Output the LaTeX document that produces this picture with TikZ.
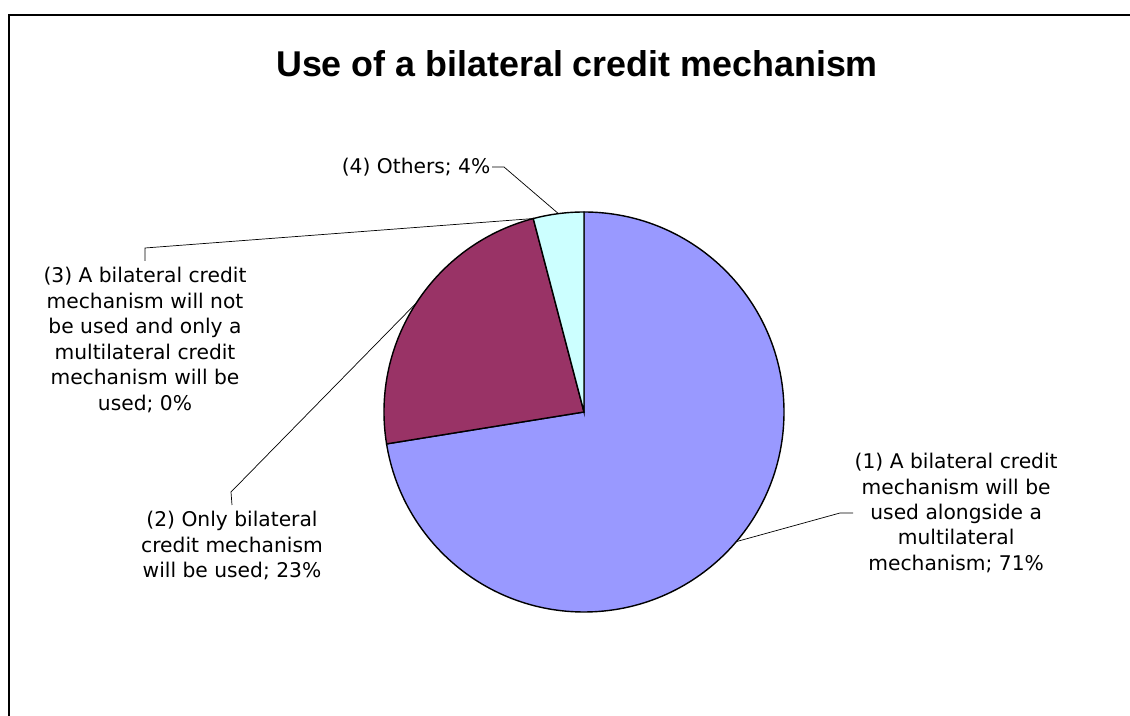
\documentclass[tikz,border=0pt]{standalone}
\usepackage{fontspec}
\setmainfont{DejaVu Sans}
\newfontfamily\titlefont{Liberation Sans}
\usepackage{tikz}
\tikzset{>=latex}
\usetikzlibrary{calc}
\usepackage{xcolor}
\definecolor{slicea}{HTML}{9999FF}
\definecolor{sliceb}{HTML}{993366}
\definecolor{slicec}{HTML}{CCFFFF}
\tikzstyle{slice}=[draw=black,line width=1pt]
\tikzstyle{leader}=[draw=black,line width=0.5pt]
\tikzstyle{lbl}=[align=center,inner xsep=1pt,inner ysep=4.5pt,font=\fontsize{14.4}{18.1}\selectfont]

\begin{document}
\begin{tikzpicture}
  \useasboundingbox (0,0) rectangle (28.25,17.9);
  \coordinate (C) at (14.6,7.6); % CENTRE
  \def\R{5}
  \pgfmathsetmacro\Aa{90-71/98*360}
  \pgfmathsetmacro\Ab{\Aa-23/98*360}
  \pgfmathsetmacro\Ma{(90+\Aa)/2}
  \pgfmathsetmacro\Mb{(\Aa+\Ab)/2}
  \pgfmathsetmacro\Md{(\Ab-270)/2}
  \coordinate (P1) at ($(C)+(\Ma:\R)$); % SLICE POINTS
  \coordinate (P2) at ($(C)+(\Mb:\R)$);
  \coordinate (P3) at ($(C)+(\Ab:\R)$);
  \coordinate (P4) at ($(C)+(\Md:\R)$);
  \coordinate (B1) at (21.0,5.075); % BENDS
  \coordinate (B2) at (5.775,5.6);
  \coordinate (B3) at (3.625,11.7);
  \coordinate (B4) at (12.6,13.725);

  % FRAME
  \draw[line width=1.4pt] (0.225,0) -- (0.225,17.525) -- (28.25,17.525);

  % TITLE
  \node (T) [anchor=base,font=\titlefont\fontsize{25.5}{30}\selectfont\bfseries] at (14.425,15.975)
    {Use of a bilateral credit mechanism};

  % PIE
  \draw[slice,fill=slicea] (C) -- ($(C)+(90:\R)$) arc[start angle=90,end angle=\Aa,radius=\R] -- cycle;
  \draw[slice,fill=sliceb] (C) -- ($(C)+(\Aa:\R)$) arc[start angle=\Aa,end angle=\Ab,radius=\R] -- cycle;
  \draw[slice,fill=slicec] (C) -- ($(C)+(\Ab:\R)$) arc[start angle=\Ab,end angle=-270,radius=\R] -- cycle;

  % LABELS
  \node (L1) [lbl,anchor=west] at (21.325,5.075)
    {(1) A bilateral credit\\mechanism will be\\used alongside a\\multilateral\\mechanism; 71\%};
  \node (L2) [lbl,anchor=north] at (5.8,5.275)
    {(2) Only bilateral\\credit mechanism\\will be used; 23\%};
  \node (L3) [lbl,anchor=north] at (3.625,11.375)
    {(3) A bilateral credit\\mechanism will not\\be used and only a\\multilateral credit\\mechanism will be\\used; 0\%};
  \node (L4) [lbl,anchor=east] at (12.3,13.725) {(4) Others; 4\%};

  % LEADERS
  \draw[leader] (P1) -- (B1) -- (L1.west);
  \draw[leader] (P2) -- (B2) -- (L2.north);
  \draw[leader] (P3) -- (B3) -- (L3.north);
  \draw[leader] (P4) -- (B4) -- (L4.east);
\end{tikzpicture}
\end{document}
